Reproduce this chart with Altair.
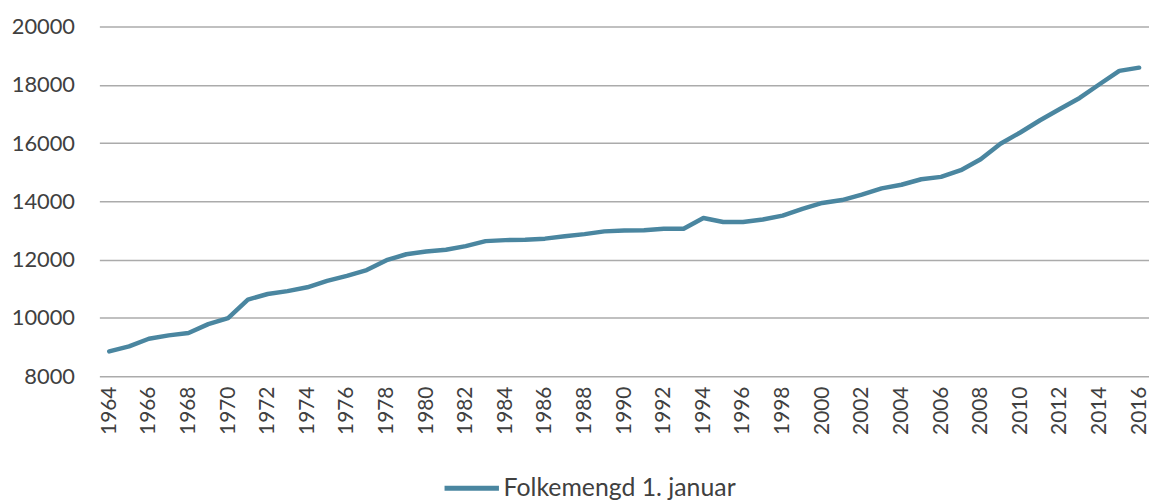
import altair as alt
import pandas as pd

years = list(range(1964, 2017))
population = [
    8850, 9020, 9285, 9400, 9480, 9785, 9990, 10630, 10820, 10920,
    11050, 11270, 11445, 11640, 11980, 12185, 12280, 12340, 12465, 12635,
    12670, 12680, 12720, 12800, 12875, 12970, 13000, 13010, 13060, 13060,
    13430, 13290, 13290, 13376, 13512, 13740, 13945, 14045, 14230, 14445,
    14570, 14760, 14840, 15070, 15445, 15980, 16365, 16785, 17170, 17550,
    18020, 18480, 18590,
]
series_name = "Folkemengd 1. januar"
tick_years = list(range(1964, 2017, 2))
y_ticks = list(range(8000, 20001, 2000))

df = pd.DataFrame({"year": years, "value": population, "series": series_name})

FONT = "Lato"
TEXT = "#404040"
BLUE = "#4A86A0"

chart = (
    alt.Chart(df)
    .mark_line(strokeWidth=4.5, strokeCap="round", strokeJoin="round")
    .encode(
        x=alt.X(
            "year:Q",
            scale=alt.Scale(domain=[1963.5, 2016.5], nice=False, zero=False),
            axis=alt.Axis(
                values=tick_years,
                format="d",
                labelAngle=-90,
                labelAlign="right",
                labelBaseline="middle",
                labelPadding=10,
                labelFlush=False,
                labelOverlap=False,
                ticks=False,
                tickSize=0,
                domain=False,
                grid=False,
                title=None,
                labelFont=FONT,
                labelFontSize=21,
                labelColor=TEXT,
            ),
        ),
        y=alt.Y(
            "value:Q",
            scale=alt.Scale(domain=[8000, 20000], nice=False, zero=False),
            axis=alt.Axis(
                values=y_ticks,
                format="d",
                labelPadding=25,
                ticks=False,
                tickSize=0,
                domain=False,
                grid=True,
                gridColor="#ABABAB",
                gridWidth=1.5,
                title=None,
                labelFont=FONT,
                labelFontSize=22,
                labelColor=TEXT,
            ),
        ),
        color=alt.Color(
            "series:N",
            scale=alt.Scale(range=[BLUE]),
            legend=alt.Legend(
                title=None,
                orient="none",
                legendX=345,
                legendY=435,
                symbolType="stroke",
                symbolSize=3000,
                symbolStrokeWidth=5,
                labelFont=FONT,
                labelFontSize=25,
                labelColor=TEXT,
                labelOffset=2,
                labelLimit=500,
                padding=0,
            ),
        ),
    )
    .properties(
        width=1057,
        height=352,
        autosize=alt.AutoSizeParams(type="none"),
        padding={"left": 92, "top": 17, "right": 0, "bottom": 123},
    )
    .configure_view(stroke=None)
)

chart.save("out.html", embed_options={"renderer": "svg", "actions": False})
